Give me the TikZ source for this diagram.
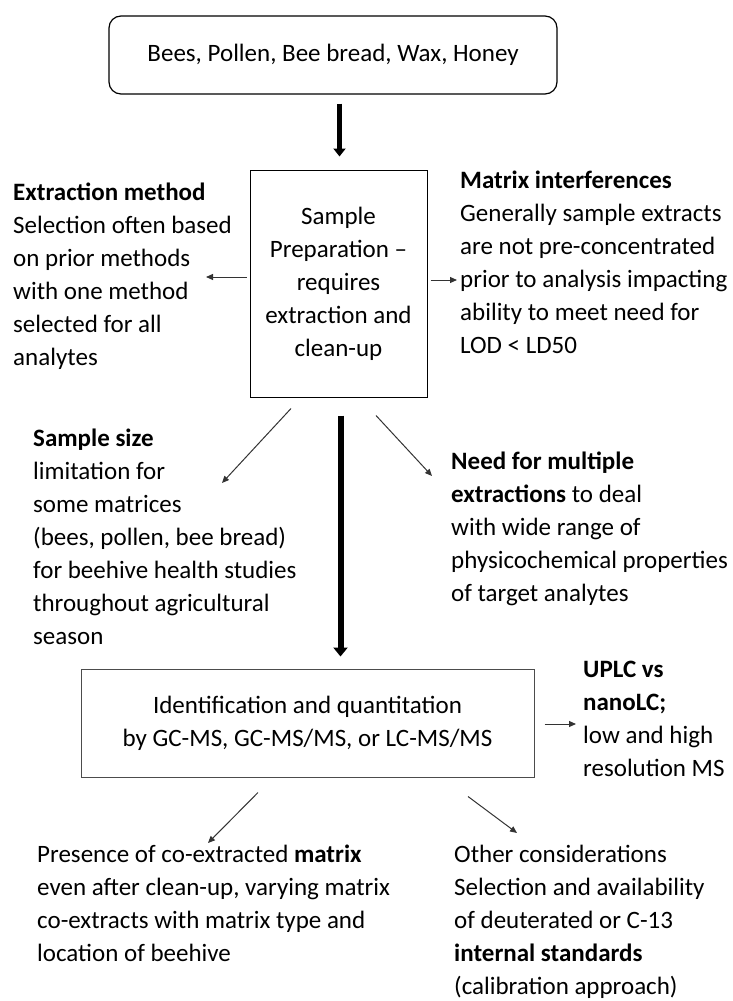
\documentclass[tikz,border=0pt]{standalone}
\usepackage{fontspec}
\setmainfont{Carlito}
\usetikzlibrary{arrows.meta}
\begin{document}
\begin{tikzpicture}[x=1pt,y=-1pt,
  every node/.style={font=\fontsize{25}{33}\selectfont, inner sep=0pt},
  boxnode/.style={draw=black, line width=1pt, align=center},
  txt/.style={anchor=base west},
  thinarrow/.style={draw=black!80, line width=1pt, -{Triangle[length=7pt,width=6pt]}},
  thickarrow/.style={draw=black, -{Triangle[length=8pt,width=12pt]}}]
\useasboundingbox (0,0) rectangle (733,1001);

% boxes
\node[boxnode, line width=1.2pt, rounded corners=12pt, minimum width=448pt, minimum height=78pt] (src) at (333,55) {Bees, Pollen, Bee bread, Wax, Honey};
\node[boxnode, minimum width=177pt, minimum height=227pt] (prep) at (338.5,283.5) {Sample\\Preparation –\\requires\\extraction and\\clean-up};
\node[boxnode, draw=black!70, minimum width=453pt, minimum height=108pt] (ident) at (307.5,723) {Identification and quantitation\\by GC-MS, GC-MS/MS, or LC-MS/MS};

% text blocks
\node[txt] (extr) at (13,200) {\begin{tabular}[t]{@{}l@{}}\textbf{Extraction method}\\Selection often based\\on prior methods\\with one method\\selected for all\\analytes\end{tabular}};
\node[txt] (matr) at (460,188) {\begin{tabular}[t]{@{}l@{}}\textbf{Matrix interferences}\\Generally sample extracts\\are not pre-concentrated\\prior to analysis impacting\\ability to meet need for\\LOD \textless{} LD50\end{tabular}};
\node[txt] (size) at (33,446) {\begin{tabular}[t]{@{}l@{}}\textbf{Sample size}\\limitation for\\some matrices\\(bees, pollen, bee bread)\\for beehive health studies\\throughout agricultural\\season\end{tabular}};
\node[txt] (need) at (451,469) {\begin{tabular}[t]{@{}l@{}}\textbf{Need for multiple}\\\textbf{extractions} to deal\\with wide range of\\physicochemical properties\\of target analytes\end{tabular}};
\node[txt] (uplc) at (583,677) {\begin{tabular}[t]{@{}l@{}}\textbf{UPLC vs}\\\textbf{nanoLC;}\\low and high\\resolution MS\end{tabular}};
\node[txt] (pres) at (37,862) {\begin{tabular}[t]{@{}l@{}}Presence of co-extracted \textbf{matrix}\\even after clean-up, varying matrix\\co-extracts with matrix type and\\location of beehive\end{tabular}};
\node[txt] (other) at (454,862) {\begin{tabular}[t]{@{}l@{}}Other considerations\\Selection and availability\\of deuterated or C-13\\\textbf{internal standards}\\(calibration approach)\end{tabular}};

% free ends of thin connectors
\coordinate (extrIn) at (206,277);
\coordinate (matrIn) at (457,280);
\coordinate (sizeIn) at (222,483);
\coordinate (needIn) at (432,476);
\coordinate (uplcIn) at (576,724);
\coordinate (presIn) at (208,843);
\coordinate (otherIn) at (517,833);

% thick flow arrows
\draw[thickarrow, line width=4.5pt] ([xshift=1pt,yshift=-9pt]prep.north |- src.south) -- ([xshift=1pt,yshift=13pt]prep.north);
\draw[thickarrow, line width=6pt, -{Triangle[length=9pt,width=14pt]}] ([xshift=2pt,yshift=-18pt]prep.south) -- ([xshift=2pt,yshift=12pt]prep.south |- ident.north);

% thin side arrows
\draw[thinarrow] ([shift={(-3pt,6.5pt)}]prep.west) -- (extrIn);
\draw[thinarrow] ([shift={(3pt,3.5pt)}]prep.east) -- (matrIn);
\draw[thinarrow] ([shift={(-47.5pt,-11pt)}]prep.south) -- (sizeIn);
\draw[thinarrow] ([shift={(37.5pt,-18pt)}]prep.south) -- (needIn);
\draw[thinarrow] ([shift={(10pt,-1pt)}]ident.east) -- (uplcIn);
\draw[thinarrow] ([shift={(-49.5pt,-15pt)}]ident.south) -- (presIn);
\draw[thinarrow] ([shift={(160.5pt,-19pt)}]ident.south) -- (otherIn);
\end{tikzpicture}
\end{document}
